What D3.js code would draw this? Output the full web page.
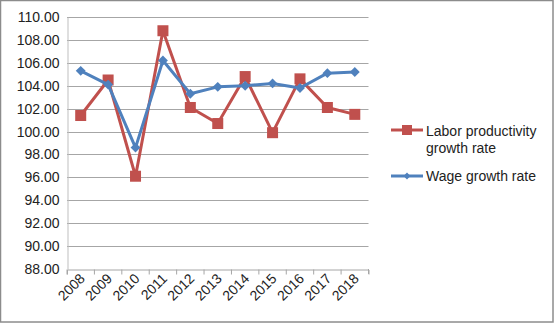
<!DOCTYPE html>
<html><head><meta charset="utf-8">
<script src="https://cdn.jsdelivr.net/npm/d3@7"></script>
<style>body{margin:0;background:#fff}svg{display:block}</style>
</head><body>
<script>
const years = ["2008","2009","2010","2011","2012","2013","2014","2015","2016","2017","2018"];
const laborProductivity = [101.4,104.5,96.1,108.8,102.1,100.7,104.8,99.9,104.6,102.1,101.5];
const wageGrowth = [105.3,104.1,98.6,106.2,103.3,103.9,104.0,104.2,103.8,105.1,105.2];
const yTicks = [88,90,92,94,96,98,100,102,104,106,108,110];
const seriesNames = ["Labor productivity growth rate","Wage growth rate"];

const W=555,H=324;
const svg=d3.select("body").append("svg").attr("width",W).attr("height",H);
svg.append("rect").attr("x",0.5).attr("y",0.5).attr("width",552.5).attr("height",321.5).attr("fill","#fff").attr("stroke","#8c8c8c").attr("stroke-width",1.5);

const x=d3.scaleBand().domain(years).range([67,368.5]);
const y=d3.scaleLinear().domain([88,110]).range([269,17]);
const font="'Liberation Sans', Arial, sans-serif";
const fs=14;

// gridlines
svg.append("g").selectAll("line").data(yTicks.slice(1)).join("line")
  .attr("x1",67).attr("x2",368.5).attr("y1",d=>Math.round(y(d))+0.5).attr("y2",d=>Math.round(y(d))+0.5)
  .attr("stroke","#a6a6a6").attr("stroke-width",1);

// y axis
const ya=svg.append("g").attr("transform","translate(67.5,0)")
  .call(d3.axisLeft(y).tickValues(yTicks).tickFormat(d3.format(".2f")).tickSize(0).tickPadding(8));
ya.select(".domain").attr("stroke","#bfbfbf");
ya.selectAll("text").attr("font-family",font).attr("font-size",fs).attr("fill","#222");

// x axis
const xa=svg.append("g").attr("transform","translate(0,"+(Math.round(y(88))+0.5)+")")
  .call(d3.axisBottom(x).tickSizeOuter(0).tickSize(5).tickFormat(d=>d));
xa.select(".domain").attr("stroke","#a6a6a6");
xa.selectAll(".tick line").attr("stroke","#a6a6a6").attr("transform","translate("+(-x.bandwidth()/2)+",0)");
svg.append("line").attr("x1",368.5).attr("x2",368.5).attr("y1",y(88)).attr("y2",y(88)+5).attr("stroke","#a6a6a6");
xa.selectAll("text").attr("font-family",font).attr("font-size",fs).attr("fill","#222")
  .attr("text-anchor","end").attr("dy",0).attr("y",0)
  .attr("transform","translate(5,10) rotate(-45)");

const cx=d=>x(d)+x.bandwidth()/2;
const line=d3.line().x((d,i)=>cx(years[i])).y(d=>y(d));
const red="#C0504D",blue="#4F81BD";

svg.append("path").datum(laborProductivity).attr("d",line).attr("fill","none").attr("stroke",red).attr("stroke-width",3).attr("stroke-linejoin","round");
svg.append("g").selectAll("rect").data(laborProductivity).join("rect")
  .attr("x",(d,i)=>cx(years[i])-5.5).attr("y",d=>y(d)-5.5).attr("width",11).attr("height",11).attr("fill",red);

svg.append("path").datum(wageGrowth).attr("d",line).attr("fill","none").attr("stroke",blue).attr("stroke-width",3).attr("stroke-linejoin","round");
svg.append("g").selectAll("path.m").data(wageGrowth).join("path")
  .attr("d",d3.symbol().type(d3.symbolDiamond2).size(62))
  .attr("transform",(d,i)=>`translate(${cx(years[i])},${y(d)})`).attr("fill",blue);

// legend
const lg=svg.append("g");
lg.append("line").attr("x1",391).attr("x2",423).attr("y1",130).attr("y2",130).attr("stroke",red).attr("stroke-width",3);
lg.append("rect").attr("x",402).attr("y",125).attr("width",10).attr("height",10).attr("fill",red);
lg.append("text").attr("x",426).attr("y",136).attr("font-family",font).attr("font-size",fs).attr("fill","#222").text(seriesNames[0].replace(" growth rate",""));
lg.append("text").attr("x",426).attr("y",153).attr("font-family",font).attr("font-size",fs).attr("fill","#222").text("growth rate");
lg.append("line").attr("x1",391).attr("x2",423).attr("y1",176).attr("y2",176).attr("stroke",blue).attr("stroke-width",3);
lg.append("path").attr("d",d3.symbol().type(d3.symbolDiamond2).size(30)).attr("transform","translate(407,176)").attr("fill",blue);
lg.append("text").attr("x",426).attr("y",181).attr("font-family",font).attr("font-size",fs).attr("fill","#222").text(seriesNames[1]);
</script>
</body></html>
